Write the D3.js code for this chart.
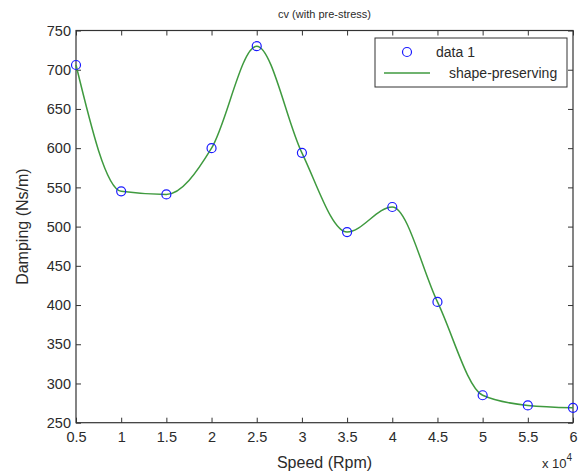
<!DOCTYPE html>
<html>
<head>
<meta charset="utf-8">
<script src="https://cdn.jsdelivr.net/npm/d3@7"></script>
<style>
  body { margin: 0; background: #fff; }
  text { font-family: "Liberation Sans", Arial, sans-serif; fill: #2b2b2b; }
</style>
</head>
<body>
<script>
// data (speed in units of 10^4 rpm)
let speeds = [0.5, 1, 1.5, 2, 2.5, 3, 3.5, 4, 4.5, 5, 5.5, 6],
    damping = [706, 545, 541, 600, 730, 594, 493, 525, 404, 285, 272, 269],
    xTicks = [0.5, 1, 1.5, 2, 2.5, 3, 3.5, 4, 4.5, 5, 5.5, 6],
    yTicks = [250, 300, 350, 400, 450, 500, 550, 600, 650, 700, 750];

let w = 583, h = 475,
    pL = 76, pR = 573, pT = 30.5, pB = 422.7;

let x = d3.scaleLinear().domain([0.5, 6]).range([pL, pR]),
    y = d3.scaleLinear().domain([250, 750]).range([pB, pT]);

let svg = d3.select("body").append("svg").attr("width", w).attr("height", h);

// box
svg.append("rect")
  .attr("x", pL).attr("y", pT)
  .attr("width", pR - pL).attr("height", pB - pT)
  .attr("fill", "none").attr("stroke", "#333").attr("stroke-width", 1.2);

// axes with inward ticks
let gx = svg.append("g").attr("transform", "translate(0," + pB + ")")
  .call(d3.axisBottom(x).tickValues(xTicks).tickSize(-5).tickSizeOuter(0).tickFormat(d3.format("")));
gx.selectAll("text").attr("dy", 0).attr("y", 19).style("font-size", "14.5px");
svg.append("g").attr("transform", "translate(0," + pT + ")")
  .call(d3.axisTop(x).tickValues(xTicks).tickSize(-5).tickSizeOuter(0).tickFormat(""));

let gy = svg.append("g").attr("transform", "translate(" + pL + ",0)")
  .call(d3.axisLeft(y).tickValues(yTicks).tickSize(-5).tickSizeOuter(0));
gy.selectAll("text").attr("x", -5).style("font-size", "14.5px");
svg.append("g").attr("transform", "translate(" + pR + ",0)")
  .call(d3.axisRight(y).tickValues(yTicks).tickSize(-5).tickSizeOuter(0).tickFormat(""));

svg.selectAll(".domain").remove();
svg.selectAll(".tick line").attr("stroke", "#333");
svg.selectAll(".tick text").style("font-family", "'Liberation Sans', Arial, sans-serif").attr("fill", "#2b2b2b");

// shape-preserving curve
let pts = speeds.map((s, i) => [s, damping[i]]);
let line = d3.line().x(d => x(d[0])).y(d => y(d[1])).curve(d3.curveMonotoneX);
svg.append("path").datum(pts)
  .attr("d", line)
  .attr("fill", "none").attr("stroke", "#3f9a3f").attr("stroke-width", 1.5);

// data markers
svg.selectAll("circle.pt").data(pts).enter().append("circle")
  .attr("class", "pt")
  .attr("cx", d => x(d[0])).attr("cy", d => y(d[1])).attr("r", 4.5)
  .attr("fill", "none").attr("stroke", "#1a1aff").attr("stroke-width", 1.2);

// title and labels
svg.append("text").attr("x", (pL + pR) / 2).attr("y", 18)
  .attr("text-anchor", "middle").style("font-size", "11px").text("cv (with pre-stress)");
svg.append("text").attr("x", (pL + pR) / 2).attr("y", 468)
  .attr("text-anchor", "middle").style("font-size", "16px").text("Speed (Rpm)");
svg.append("text").attr("transform", "translate(28," + (pT + pB) / 2 + ") rotate(-90)")
  .attr("text-anchor", "middle").style("font-size", "16px").text("Damping (Ns/m)");
let ex = svg.append("text").attr("x", 542).attr("y", 468).style("font-size", "13px");
ex.append("tspan").text("x 10");
ex.append("tspan").attr("dy", -7).style("font-size", "10px").text("4");

// legend
let lg = svg.append("g");
lg.append("rect").attr("x", 375).attr("y", 38).attr("width", 192).attr("height", 49)
  .attr("fill", "#fff").attr("stroke", "#333").attr("stroke-width", 1);
lg.append("circle").attr("cx", 407).attr("cy", 52).attr("r", 4.5)
  .attr("fill", "none").attr("stroke", "#1a1aff").attr("stroke-width", 1.2);
lg.append("text").attr("x", 436).attr("y", 57).style("font-size", "14px").text("data 1");
lg.append("line").attr("x1", 384).attr("x2", 430).attr("y1", 73).attr("y2", 73)
  .attr("stroke", "#3f9a3f").attr("stroke-width", 1.5);
lg.append("text").attr("x", 449).attr("y", 78).style("font-size", "14px").text("shape-preserving");
</script>
</body>
</html>
